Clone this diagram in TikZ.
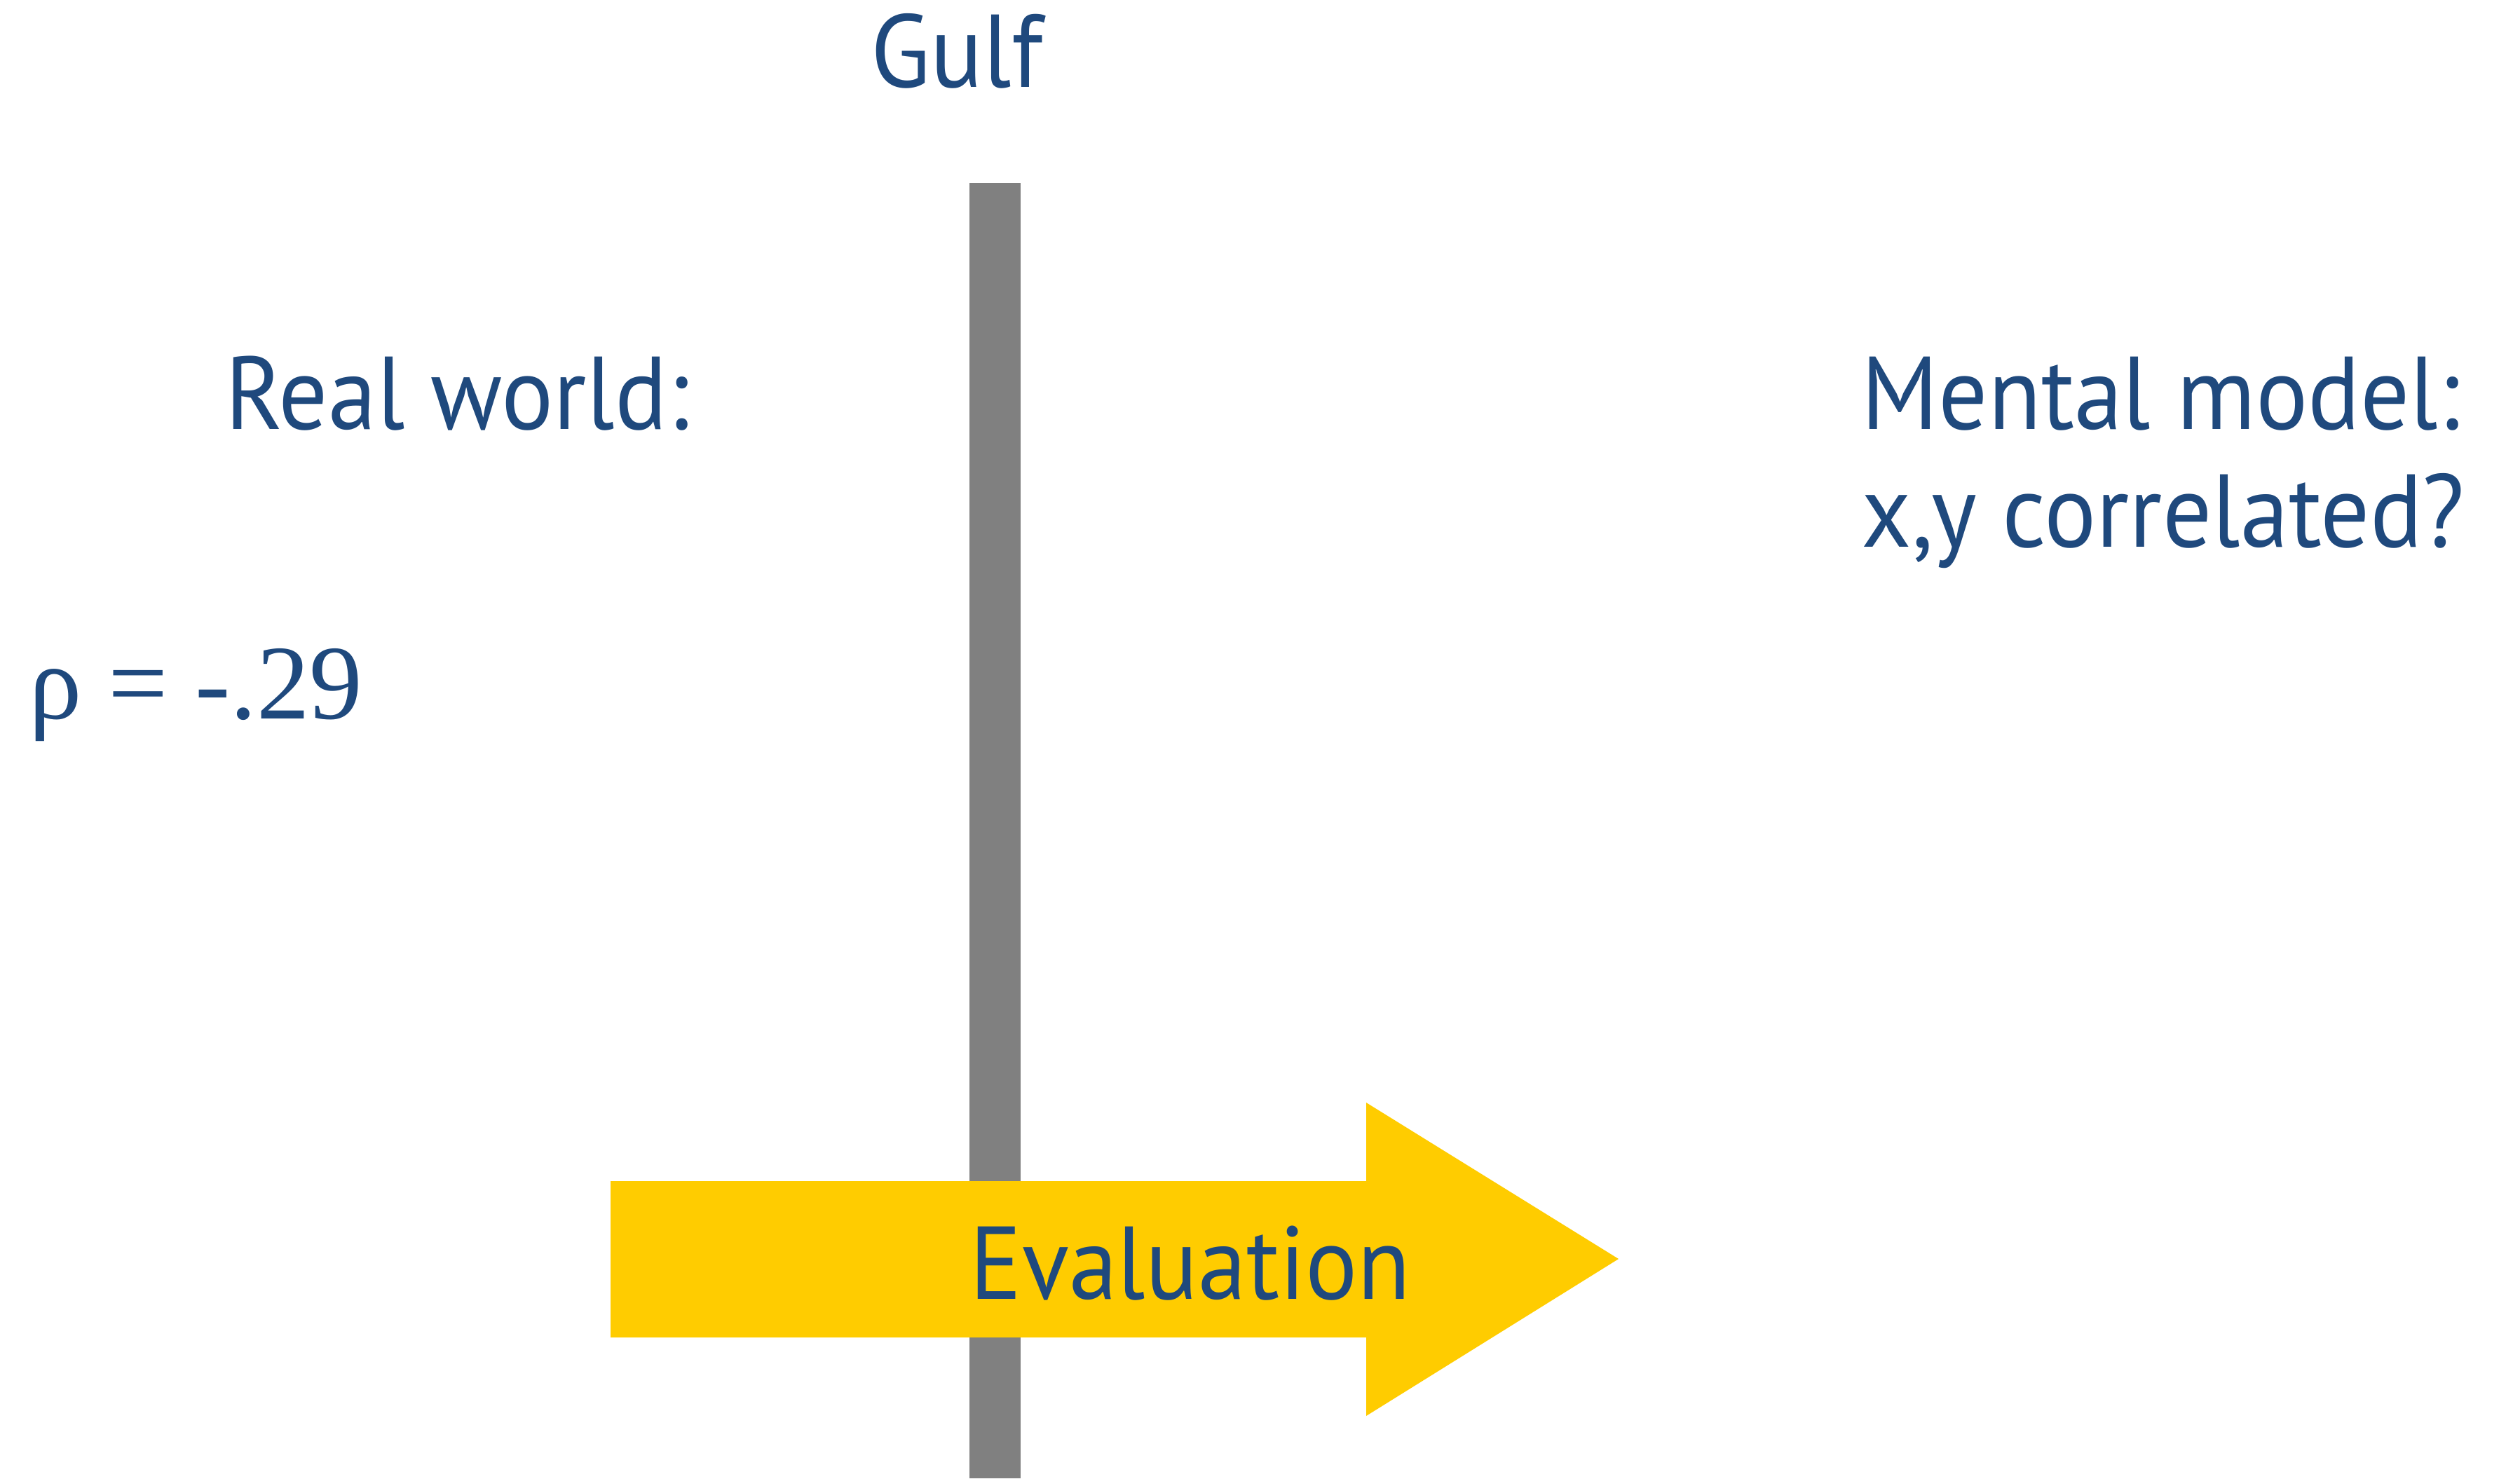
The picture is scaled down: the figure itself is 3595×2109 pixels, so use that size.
\documentclass[tikz,border=0pt]{standalone}
\usepackage{fontspec}
\setmainfont{PT Sans}[FakeStretch=0.94]
\newfontfamily\rhofont{Liberation Serif}
\definecolor{gulfblue}{HTML}{1F497D}
\definecolor{bargray}{HTML}{808080}
\definecolor{evalyellow}{HTML}{FFCC00}
\tikzset{
  labeltext/.style={text=gulfblue, inner sep=0pt, anchor=base west,
    font=\fontsize{42}{50}\selectfont},
  rhotext/.style={labeltext, font=\rhofont\fontsize{43}{50}\selectfont}
}
\begin{document}
\begin{tikzpicture}[x=0.01cm,y=-0.01cm]
\useasboundingbox (0,0) rectangle (3595,2109);
% the gulf
\fill[bargray] (1383,261) rectangle (1456,2109);
% evaluation arrow
\fill[evalyellow] (871,1685) -- (1949,1685) -- (1949,1573) -- (2309,1796)
  -- (1949,2020) -- (1949,1908) -- (871,1908) -- cycle;
\node[labeltext] (gulf) at (1242,125) {Gulf};
\node[labeltext] (real) at (321,612) {Real world:};
\node[rhotext] (rho) at (41,1025) {ρ = -.29};
\node[labeltext] (mental) at (2655,612) {Mental model:};
\node[labeltext] (corr) at (2655,780) {x,y correlated?};
\node[labeltext] (eval) at (1383,1853) {Evaluation};
\end{tikzpicture}
\end{document}
